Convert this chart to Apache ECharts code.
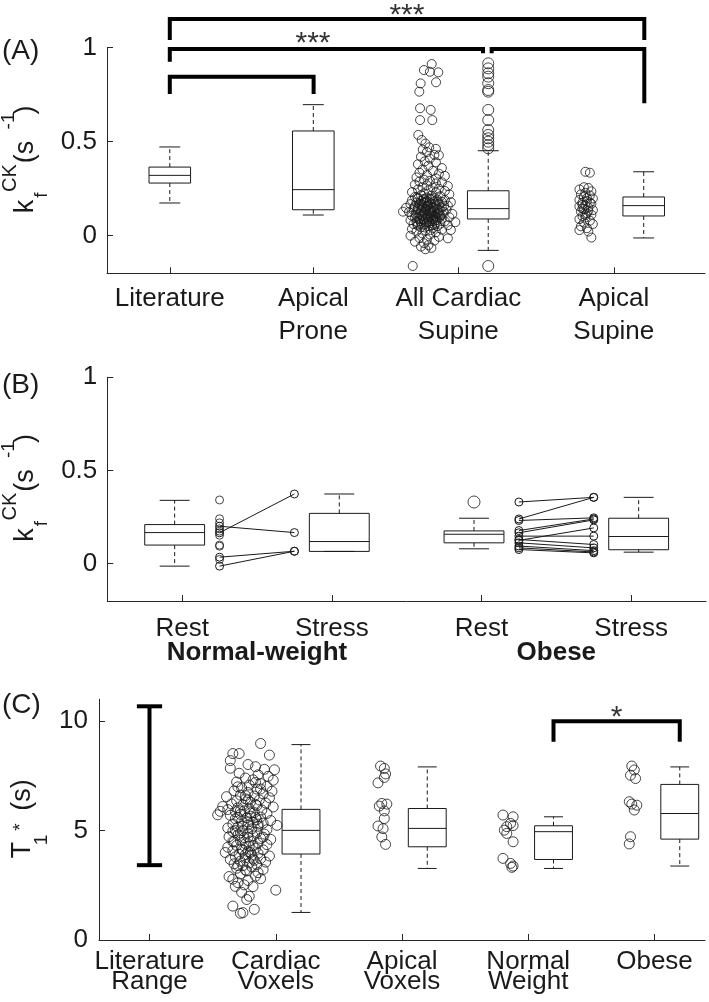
<!DOCTYPE html>
<html><head><meta charset="utf-8">
<script src="https://cdn.jsdelivr.net/npm/echarts@6/dist/echarts.min.js"></script>
<style>html,body{margin:0;padding:0;background:#fff}#c{width:709px;height:1002px}</style>
</head><body><div id="c"></div>
<script>
// ---------------- Panel A ----------------
const catA = ['Literature', 'Apical\nProne', 'All Cardiac\nSupine', 'Apical\nSupine'];
const tickA = [0.92, 1.88, 2.85, 3.89];
const yTicksA = [0, 0.5, 1];
const boxPosA = [0.92, 1.88, 3.05, 4.09];
// [low whisker, q1, median, q3, high whisker]
const boxStatsA = [
  [0.174, 0.280, 0.321, 0.365, 0.472],
  [0.110, 0.138, 0.245, 0.557, 0.697],
  [-0.078, 0.089, 0.144, 0.239, 0.452],
  [-0.012, 0.105, 0.160, 0.206, 0.340]
];
const outlierXA = 3.05;
const outliersA = [0.917, 0.890, 0.864, 0.846, 0.811, 0.775, 0.766, 0.669, 0.615, 0.562, 0.536, 0.518, 0.500, 0.482, 0.465, -0.161];
const cardiacScatterA = [
  [2.672,0.913],[2.620,0.881],[2.660,0.872],[2.716,0.869],[2.598,0.810],[2.701,0.816],[2.589,0.766],[2.594,0.678],[2.665,0.669],[2.594,0.615],[2.676,0.615],[2.582,0.536],[2.605,0.509],[2.630,0.490],[2.655,0.470],[2.700,0.462],[2.612,0.458],
  [2.640,0.445],[2.690,0.430],[2.720,0.428],[2.600,0.420],[2.660,0.410],[2.625,0.395],[2.700,0.390],[2.580,0.380],[2.650,0.372],[2.740,0.360],[2.610,0.352],[2.680,0.345],[2.590,0.335],[2.720,0.330],[2.640,0.322],[2.760,0.318],[2.570,0.310],[2.700,0.305],
  [2.620,0.298],[2.660,0.292],[2.590,0.288],[2.740,0.284],[2.700,0.278],[2.560,0.272],[2.640,0.268],[2.780,0.264],[2.610,0.258],[2.680,0.255],[2.720,0.250],[2.580,0.246],[2.650,0.242],[2.760,0.238],[2.540,0.232],[2.700,0.230],[2.620,0.225],[2.790,0.220],[2.600,0.216],[2.670,0.214],[2.730,0.210],[2.560,0.206],[2.640,0.204],[2.690,0.201],
  [2.580,0.198],[2.620,0.196],[2.660,0.194],[2.710,0.192],[2.760,0.190],[2.540,0.188],[2.600,0.186],[2.640,0.184],[2.690,0.182],[2.740,0.180],[2.800,0.178],[2.570,0.176],[2.620,0.174],[2.670,0.172],[2.720,0.170],[2.530,0.168],[2.590,0.166],[2.650,0.164],[2.700,0.162],[2.780,0.160],[2.560,0.158],[2.610,0.156],[2.640,0.154],[2.680,0.152],[2.740,0.150],[2.500,0.148],[2.580,0.146],[2.630,0.144],[2.660,0.142],[2.710,0.140],[2.770,0.138],[2.550,0.136],[2.600,0.134],[2.650,0.132],[2.690,0.130],[2.750,0.128],[2.480,0.128],[2.520,0.126],[2.570,0.124],[2.620,0.122],[2.670,0.120],[2.720,0.118],[2.810,0.116],[2.590,0.114],[2.640,0.112],[2.680,0.110],[2.730,0.108],[2.540,0.106],[2.610,0.104],[2.660,0.102],[2.700,0.100],[2.790,0.098],[2.560,0.096],[2.630,0.094],[2.670,0.092],[2.740,0.090],[2.590,0.088],[2.650,0.086],[2.710,0.084],[2.530,0.082],[2.620,0.080],[2.680,0.078],[2.760,0.076],[2.570,0.074],[2.830,0.072],[2.640,0.072],[2.700,0.070],[2.600,0.068],[2.660,0.066],[2.730,0.064],[2.550,0.062],[2.620,0.060],[2.690,0.058],[2.780,0.056],[2.580,0.054],[2.650,0.052],[2.710,0.050],
  [2.575,0.205],[2.615,0.190],[2.655,0.178],[2.695,0.170],[2.605,0.162],[2.645,0.158],[2.685,0.146],[2.725,0.136],[2.585,0.140],[2.625,0.130],[2.665,0.126],[2.705,0.116],[2.565,0.112],[2.605,0.108],[2.645,0.098],[2.685,0.090],[2.725,0.098],[2.595,0.078],[2.635,0.064],[2.675,0.056],[2.615,0.148],[2.655,0.118],[2.695,0.106],[2.575,0.092],[2.635,0.176],[2.675,0.196],[2.715,0.180],[2.755,0.160],[2.745,0.112],[2.555,0.150],[2.595,0.172],[2.635,0.138],[2.675,0.132],[2.715,0.124],[2.615,0.088],[2.655,0.074],[2.695,0.080],[2.575,0.060],[2.625,0.044],[2.665,0.030],
  [2.600,0.045],[2.680,0.040],[2.540,0.036],[2.740,0.032],[2.800,0.030],[2.630,0.028],[2.570,0.022],[2.700,0.018],[2.610,0.012],[2.660,0.006],[2.530,0.000],[2.720,-0.006],[2.780,-0.014],[2.590,-0.012],[2.640,-0.020],[2.690,-0.026],[2.560,-0.032],[2.620,-0.040],[2.650,-0.050],[2.600,-0.058],[2.670,-0.065],[2.630,-0.072],
  [2.545,-0.161]
];
const apicalSupineScatterA = [
  [3.70,0.340],[3.73,0.335],[3.69,0.258],[3.72,0.254],[3.66,0.246],[3.74,0.236],[3.70,0.228],[3.67,0.220],[3.73,0.214],[3.69,0.206],[3.75,0.198],[3.66,0.190],[3.71,0.184],[3.68,0.176],[3.74,0.170],[3.70,0.162],[3.66,0.156],[3.72,0.150],[3.69,0.142],[3.75,0.136],[3.67,0.128],[3.71,0.120],[3.74,0.112],[3.68,0.104],[3.70,0.096],[3.66,0.088],[3.73,0.080],[3.69,0.070],[3.75,0.062],[3.67,0.050],[3.71,0.040],[3.66,0.030],[3.72,0.022],[3.74,-0.010],
  [3.71,0.200],[3.68,0.166],[3.72,0.132],[3.70,0.110],[3.73,0.176],[3.68,0.144]
];
// brackets: [x1, x2, yTop, yLeg1, yLeg2]
const bracketsA = [
  [0.92, 1.882, 0.846, 0.754, 0.754],
  [0.92, 3.015, 0.993, 0.925, 0.971],
  [3.073, 4.094, 0.993, 0.971, 0.705],
  [0.92, 4.094, 1.153, 1.041, 1.041]
];
const sigLabelsA = [['***', 2.506, 1.168], ['***', 1.878, 1.021]];

// ---------------- Panel B ----------------
const catB = ['Rest', 'Stress', 'Rest', 'Stress'];
const tickB = [1, 2, 3, 4];
const groupB = ['Normal-weight', 'Obese'];
const groupPosB = [1.5, 3.5];
const boxPosB = [0.95, 2.05, 2.95, 4.05];
const boxStatsB = [
  [-0.013, 0.100, 0.167, 0.210, 0.340],
  [0.066, 0.066, 0.119, 0.270, 0.374],
  [0.080, 0.112, 0.158, 0.176, 0.244],
  [0.062, 0.075, 0.146, 0.244, 0.356]
];
const outlierB = [[2.95, 0.331]];
const restXB = [1.25, 3.25];
const stressXB = [1.75, 3.75];
// paired [rest, stress]
const pairsNormalB = [[0.166, 0.374], [0.201, 0.167], [0.035, 0.067], [-0.013, 0.067]];
const unpairedNormalRestB = [0.342, 0.241, 0.219, 0.187, 0.175, 0.153, 0.100, 0.094, 0.023];
const pairsObeseB = [[0.331, 0.356], [0.240, 0.356], [0.232, 0.246], [0.178, 0.240], [0.166, 0.235], [0.125, 0.192], [0.148, 0.148], [0.130, 0.103], [0.112, 0.085], [0.095, 0.070], [0.085, 0.063], [0.076, 0.058]];

// ---------------- Panel C ----------------
const catC = ['Literature\nRange', 'Cardiac\nVoxels', 'Apical\nVoxels', 'Normal\nWeight', 'Obese'];
const tickC = [1, 2, 3, 4, 5];
const yTicksC = [0, 5, 10];
const litRangeC = [[1, 3.42, 10.68]];
const boxPosC = [2.2, 3.2, 4.2, 5.2];
const boxStatsC = [
  [1.26, 3.93, 5.01, 5.97, 8.93],
  [3.27, 4.26, 5.10, 6.01, 7.91],
  [3.27, 3.68, 4.95, 5.22, 5.63],
  [3.38, 4.61, 5.78, 7.11, 7.91]
];
const cardiacScatterC = [
  [1.88,8.98],[1.66,8.52],[1.71,8.52],[1.95,8.45],[1.64,8.20],[1.78,8.02],[1.64,7.85],[1.84,7.92],[1.91,7.80],[1.99,7.78],[1.71,7.62],[1.86,7.55],[1.94,7.48],[1.76,7.40],[1.82,7.32],[1.98,7.30],[1.69,7.22],[1.88,7.15],[1.79,7.08],[1.93,7.02],[1.73,6.95],[1.85,6.90],[1.67,6.82],[1.97,6.80],[1.78,6.74],[1.90,6.68],[1.72,6.62],[1.83,6.58],[1.61,6.55],[1.95,6.50],[1.76,6.45],[1.87,6.40],[1.69,6.36],[1.80,6.30],[1.92,6.26],[1.65,6.22],[1.74,6.18],[1.85,6.14],[1.58,6.10],[1.98,6.08],[1.70,6.04],[1.79,6.00],[1.62,5.96],[1.89,5.94],[1.56,5.88],[1.54,5.72],[1.75,5.90],[1.68,5.86],[1.83,5.82],[1.93,5.78],[1.72,5.74],[1.64,5.70],[1.80,5.66],[1.88,5.62],[1.77,5.58],[1.68,5.54],[1.85,5.50],[1.96,5.46],[1.73,5.42],[1.82,5.38],[1.90,5.34],[1.66,5.30],[1.78,5.26],[2.01,5.24],[1.86,5.20],[1.70,5.16],[1.62,5.12],[1.81,5.08],[1.93,5.04],[1.74,5.00],[1.66,4.96],[1.85,4.92],[1.78,4.88],[1.91,4.84],[1.70,4.80],[1.82,4.76],[1.63,4.72],[1.75,4.68],[1.88,4.64],[1.96,4.60],[1.72,4.56],[1.80,4.52],[1.67,4.48],[1.86,4.44],[1.76,4.40],[1.93,4.36],[1.69,4.32],[1.79,4.28],[1.62,4.24],[1.84,4.20],[1.73,4.16],[1.90,4.12],[1.66,4.08],[1.78,4.04],[1.60,4.00],[1.86,3.96],[1.71,3.92],[1.81,3.88],[1.95,3.84],[1.68,3.80],[1.76,3.76],[1.88,3.72],[1.64,3.68],[1.83,3.64],[1.72,3.60],[1.92,3.56],[1.79,3.52],[1.67,3.48],[1.85,3.44],[1.74,3.40],[1.81,3.34],[1.69,3.28],[1.90,3.22],[1.77,3.16],[1.86,3.08],[1.72,3.02],[1.63,2.90],[1.84,2.92],[1.66,2.78],[1.78,2.72],[1.88,2.80],[1.70,2.62],[1.75,2.52],[1.68,2.45],[1.82,2.44],[2.00,2.28],[1.73,2.18],[1.79,2.00],[1.77,1.85],[1.66,1.55],[1.83,1.40],[1.74,1.25],[1.72,1.22],
  [1.70,5.60],[1.74,5.20],[1.78,4.70],[1.82,4.30],[1.76,3.90],[1.72,4.90],[1.80,5.80],[1.84,6.20],[1.76,6.60],[1.70,7.00],[1.84,7.20],[1.74,4.10],[1.68,5.00],[1.86,5.30],[1.80,4.00],[1.66,4.50],[1.90,4.70],[1.78,6.40],[1.72,5.90],[1.88,6.90],[1.82,3.70],[1.70,3.40],[1.76,3.20],[1.84,5.60],[1.78,5.40]
];
const apicalScatterC = [[2.83,7.95],[2.86,7.84],[2.87,7.59],[2.86,7.43],[2.81,7.18],[2.84,6.24],[2.88,6.21],[2.82,6.12],[2.86,5.90],[2.86,5.55],[2.81,5.21],[2.85,5.09],[2.84,4.71],[2.87,4.37]];
const normalScatterC = [[3.80,5.71],[3.88,5.63],[3.86,5.33],[3.83,5.18],[3.88,5.23],[3.81,5.02],[3.83,4.87],[3.88,4.49],[3.80,3.73],[3.86,3.50],[3.88,3.38],[3.87,3.32]];
const obeseScatterC = [[4.82,7.95],[4.84,7.77],[4.81,7.53],[4.85,7.38],[4.80,6.32],[4.82,6.21],[4.86,6.16],[4.84,5.94],[4.81,4.72],[4.80,4.39]];
const bracketsC = [[4.2, 5.2, 10.0, 9.06, 9.06]];
const sigLabelsC = [['*', 4.70, 10.14]];

// ---------------- drawing ----------------
const FONT = '"Liberation Sans", Arial, Helvetica, sans-serif';
const INK = '#1a1a1a';
const AXIS = '#262626';

function boxSeries(xi, pos, stats, boxW, capW) {
  return {
    type: 'custom', xAxisIndex: xi, yAxisIndex: xi, clip: false, z: 3, silent: true,
    data: pos.map((x, i) => [x].concat(stats[i])),
    encode: { x: 0, y: [1, 2, 3, 4, 5] },
    renderItem: function (params, api) {
      const x = api.value(0);
      const pLo = api.coord([x, api.value(1)]), pQ1 = api.coord([x, api.value(2)]),
        pMd = api.coord([x, api.value(3)]), pQ3 = api.coord([x, api.value(4)]),
        pHi = api.coord([x, api.value(5)]);
      const hw = api.size([boxW, 0])[0] / 2, cw = api.size([capW, 0])[0] / 2;
      const cx = pMd[0];
      const ln = { stroke: INK, lineWidth: 1, fill: null };
      const dash = { stroke: INK, lineWidth: 1, lineDash: [4, 3], fill: null };
      return { type: 'group', children: [
        { type: 'line', shape: { x1: cx, y1: pQ3[1], x2: cx, y2: pHi[1] }, style: dash },
        { type: 'line', shape: { x1: cx, y1: pQ1[1], x2: cx, y2: pLo[1] }, style: dash },
        { type: 'line', shape: { x1: cx - cw, y1: pHi[1], x2: cx + cw, y2: pHi[1] }, style: ln },
        { type: 'line', shape: { x1: cx - cw, y1: pLo[1], x2: cx + cw, y2: pLo[1] }, style: ln },
        { type: 'rect', shape: { x: cx - hw, y: pQ3[1], width: 2 * hw, height: pQ1[1] - pQ3[1] }, style: { stroke: INK, fill: 'none', lineWidth: 1 } },
        { type: 'line', shape: { x1: cx - hw, y1: pMd[1], x2: cx + hw, y2: pMd[1] }, style: ln }
      ] };
    }
  };
}
function scatterSeries(xi, data, size) {
  return {
    type: 'scatter', xAxisIndex: xi, yAxisIndex: xi, data: data, symbol: 'circle', symbolSize: size,
    itemStyle: { color: 'rgba(0,0,0,0)', borderColor: INK, borderWidth: 1 }, silent: true, z: 4, clip: false
  };
}
function bracketSeries(xi, b) {
  return {
    type: 'line', xAxisIndex: xi, yAxisIndex: xi, symbol: 'none', clip: false, silent: true, z: 6,
    data: [[b[0], b[3]], [b[0], b[2]], [b[1], b[2]], [b[1], b[4]]],
    lineStyle: { color: '#000', width: 4, join: 'miter', cap: 'butt' }
  };
}
function sigSeries(xi, labels) {
  return {
    type: 'scatter', xAxisIndex: xi, yAxisIndex: xi, symbolSize: 0, clip: false, silent: true, z: 7,
    data: labels.map(l => ({ name: l[0], value: [l[1], l[2]] })),
    label: { show: true, position: 'inside', formatter: '{b}', fontSize: 30, fontFamily: FONT, color: '#000' }
  };
}
function pairSeries(xi, x1, x2, pair) {
  return {
    type: 'line', xAxisIndex: xi, yAxisIndex: xi, data: [[x1, pair[0]], [x2, pair[1]]],
    symbol: 'circle', symbolSize: 8, showSymbol: true, silent: true, z: 4,
    itemStyle: { color: 'rgba(0,0,0,0)', borderColor: INK, borderWidth: 1 },
    lineStyle: { color: INK, width: 1 }
  };
}
function labelFmt(ticks, cats) {
  return function (v) {
    const i = ticks.findIndex(t => Math.abs(t - v) < 1e-6);
    return i >= 0 ? cats[i] : '';
  };
}
function xAxisDef(gi, min, max, ticks, cats, margin, lh) {
  return {
    type: 'value', gridIndex: gi, min: min, max: max,
    axisLine: { show: true, onZero: false, lineStyle: { color: AXIS, width: 1 } },
    axisTick: { show: true, inside: true, length: 6, customValues: ticks, lineStyle: { color: AXIS } },
    axisLabel: { show: true, customValues: ticks, formatter: labelFmt(ticks, cats), fontSize: 26, fontFamily: FONT, color: INK, margin: margin, lineHeight: lh },
    splitLine: { show: false }
  };
}
function yAxisDef(gi, min, max, ticks, margin) {
  return {
    type: 'value', gridIndex: gi, min: min, max: max,
    axisLine: { show: true, onZero: false, lineStyle: { color: AXIS, width: 1 } },
    axisTick: { show: true, inside: true, length: 6, customValues: ticks, lineStyle: { color: AXIS } },
    axisLabel: { show: true, customValues: ticks, fontSize: 26, fontFamily: FONT, color: INK, margin: margin },
    splitLine: { show: false }
  };
}

const series = [];
// A
series.push(boxSeries(0, boxPosA, boxStatsA, 0.278, 0.14));
series.push(scatterSeries(0, cardiacScatterA, 9));
series.push(scatterSeries(0, apicalSupineScatterA, 9));
series.push(scatterSeries(0, outliersA.map(v => [outlierXA, v]), 11));
bracketsA.forEach(b => series.push(bracketSeries(0, b)));
series.push(sigSeries(0, sigLabelsA));
// B
series.push(boxSeries(1, boxPosB, boxStatsB, 0.40, 0.20));
series.push(scatterSeries(1, outlierB, 12));
series.push(scatterSeries(1, unpairedNormalRestB.map(v => [restXB[0], v]), 8));
pairsNormalB.forEach(p => series.push(pairSeries(1, restXB[0], stressXB[0], p)));
pairsObeseB.forEach(p => series.push(pairSeries(1, restXB[1], stressXB[1], p)));
// C
series.push({
  type: 'custom', xAxisIndex: 2, yAxisIndex: 2, clip: false, silent: true, z: 5,
  data: litRangeC, encode: { x: 0, y: [1, 2] },
  renderItem: function (params, api) {
    const x = api.value(0);
    const pLo = api.coord([x, api.value(1)]), pHi = api.coord([x, api.value(2)]);
    const cw = api.size([0.2, 0])[0] / 2;
    const st = { stroke: '#000', lineWidth: 4, fill: null };
    return { type: 'group', children: [
      { type: 'line', shape: { x1: pLo[0], y1: pLo[1], x2: pHi[0], y2: pHi[1] }, style: st },
      { type: 'line', shape: { x1: pLo[0] - cw, y1: pLo[1], x2: pLo[0] + cw, y2: pLo[1] }, style: st },
      { type: 'line', shape: { x1: pHi[0] - cw, y1: pHi[1], x2: pHi[0] + cw, y2: pHi[1] }, style: st }
    ] };
  }
});
series.push(boxSeries(2, boxPosC, boxStatsC, 0.30, 0.15));
series.push(scatterSeries(2, cardiacScatterC, 10));
series.push(scatterSeries(2, apicalScatterC, 10));
series.push(scatterSeries(2, normalScatterC, 10));
series.push(scatterSeries(2, obeseScatterC, 10));
bracketsC.forEach(b => series.push(bracketSeries(2, b)));
series.push(sigSeries(2, sigLabelsC));

const chart = echarts.init(document.getElementById('c'), null, { renderer: 'canvas' });
chart.setOption({
  animation: false,
  backgroundColor: '#fff',
  grid: [
    { left: 107, top: 47.7, width: 598, height: 225.6 },
    { left: 107.3, top: 377.3, width: 598.7, height: 223.7 },
    { left: 99, top: 699.3, width: 606, height: 240.7 }
  ],
  xAxis: [
    xAxisDef(0, 0.5, 4.5, tickA, catA, 9, 33),
    xAxisDef(1, 0.5, 4.5, tickB, catB, 13, 30),
    xAxisDef(2, 0.6, 5.4, tickC, catC, 12, 20)
  ],
  yAxis: [
    yAxisDef(0, -0.2, 1, yTicksA, 10),
    yAxisDef(1, -0.2, 1, yTicksA, 10),
    yAxisDef(2, 0, 11, yTicksC, 11)
  ],
  series: series
});

// text annotations
function rotText(t, cx, cy, size) {
  return { type: 'text', x: cx, y: cy, rotation: Math.PI / 2, silent: true, z: 10,
    style: { text: t, font: size + 'px ' + FONT, fill: INK, align: 'center', verticalAlign: 'middle', textAlign: 'center', textVerticalAlign: 'middle' } };
}
function plainText(t, x, y, size, weight, align) {
  return { type: 'text', x: x, y: y, silent: true, z: 10,
    style: { text: t, font: (weight || 'normal') + ' ' + size + 'px ' + FONT, fill: INK, align: align || 'left', verticalAlign: 'middle', textAlign: align || 'left', textVerticalAlign: 'middle' } };
}
const graphics = [];
// k_f^CK (s^-1) labels for panels A and B
[0, 328.6].forEach(function (dy) {
  graphics.push(rotText('k', 25.5, 206.5 + dy, 27));
  graphics.push(rotText('CK', 10, 178 + dy, 20));
  graphics.push(rotText('f', 41.3, 195 + dy, 19));
  graphics.push(rotText('(s', 25.5, 152 + dy, 27));
  graphics.push(rotText('-1', 8.3, 121 + dy, 19));
  graphics.push(rotText(')', 25.5, 110 + dy, 27));
});
// T_1^* (s)
graphics.push(rotText('T', 22.5, 850, 27));
graphics.push(rotText('1', 41.3, 840, 19));
graphics.push(rotText('*', 20.4, 827, 19));
graphics.push(rotText('(s)', 22.5, 795, 27));
// panel tags
graphics.push(plainText('(A)', 2, 51.5, 28));
graphics.push(plainText('(B)', 2, 385, 28));
graphics.push(plainText('(C)', 2, 705, 28));
// group labels for panel B
groupB.forEach(function (g, i) {
  const px = chart.convertToPixel({ xAxisIndex: 1, yAxisIndex: 1 }, [groupPosB[i], -0.2]);
  graphics.push(plainText(g, px[0], px[1] + 52, 26, 'bold', 'center'));
});
chart.setOption({ graphic: graphics });
</script></body></html>
